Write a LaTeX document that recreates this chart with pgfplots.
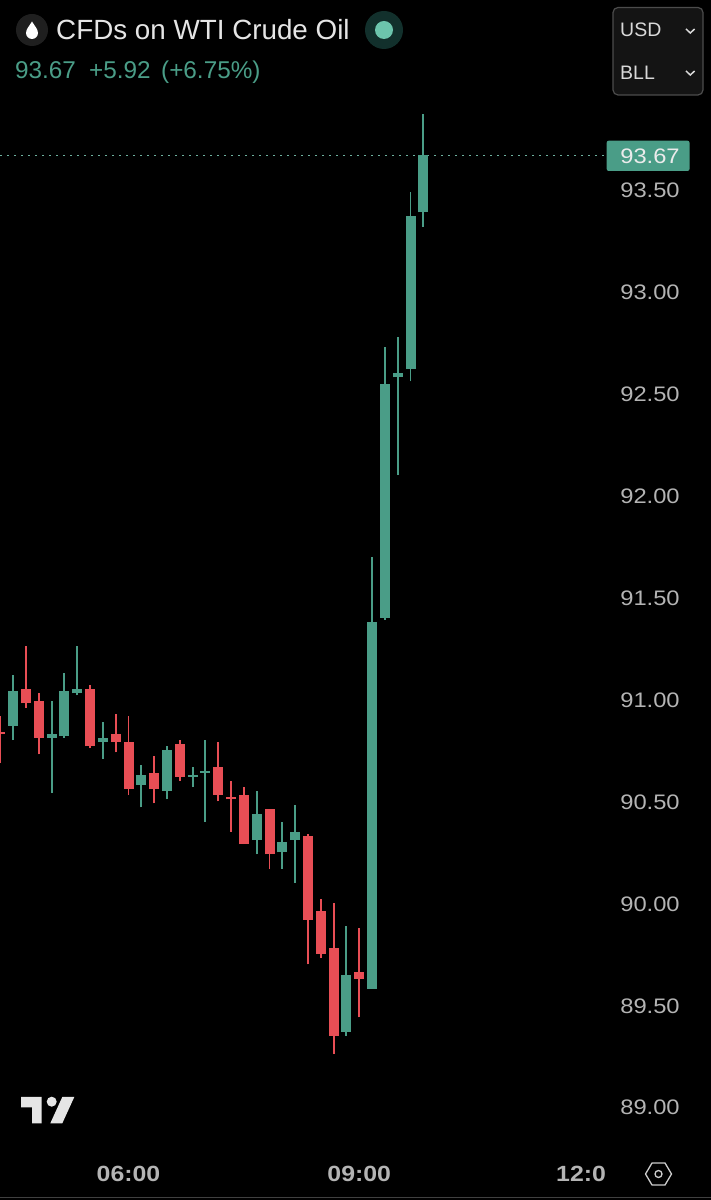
\documentclass[border=0pt]{standalone}
\usepackage{fontspec}
\setmainfont{Liberation Sans}
\newfontfamily\wide[FakeStretch=1.13]{Liberation Sans}
\usepackage{pgfplots}
\usepackage{pgfplotstable}
\pgfplotsset{compat=1.18}
\definecolor{grn}{RGB}{74,157,135}
\definecolor{red1}{RGB}{232,78,85}
\definecolor{lbl}{RGB}{180,180,180}
\pgfplotstableread{
x open high low close
0 90.84 90.92 90.69 90.83
2 91.05 91.26 90.96 90.98
3 90.99 91.03 90.73 90.81
7 91.05 91.07 90.76 90.77
9 90.83 90.93 90.74 90.79
10 90.79 90.92 90.53 90.56
12 90.64 90.72 90.49 90.56
14 90.78 90.80 90.60 90.62
17 90.67 90.79 90.50 90.53
18 90.52 90.60 90.35 90.51
19 90.53 90.57 90.29 90.29
21 90.46 90.46 90.17 90.24
24 90.33 90.34 89.70 89.92
25 89.96 90.02 89.73 89.75
26 89.78 90.00 89.26 89.35
28 89.66 89.88 89.44 89.63
}\redt
\pgfplotstableread{
x open high low close
1 90.87 91.12 90.80 91.04
4 90.81 90.99 90.54 90.83
5 90.82 91.13 90.81 91.04
6 91.03 91.26 91.02 91.05
8 90.79 90.89 90.71 90.81
11 90.58 90.68 90.47 90.63
13 90.55 90.77 90.51 90.75
15 90.62 90.67 90.57 90.63
16 90.64 90.80 90.40 90.65
20 90.31 90.55 90.24 90.44
22 90.25 90.40 90.17 90.30
23 90.31 90.48 90.10 90.35
27 89.37 89.89 89.35 89.65
29 89.58 91.70 89.58 91.38
30 91.40 92.73 91.39 92.55
31 92.58 92.78 92.10 92.60
32 92.62 93.49 92.56 93.37
33 93.39 93.87 93.32 93.67
}\grnt
\pgfplotsset{
 wick/.style={draw=none, mark=none, forget plot, error bars/.cd, y dir=plus, y explicit, error mark=none,
   error bar style={draw=#1, line width=1.9pt}},
 body/.style={draw=none, mark=none, forget plot, error bars/.cd, y dir=plus, y explicit, error mark=none,
   error bar style={draw=#1, line width=10pt}}
}
\begin{document}
\begin{tikzpicture}
\useasboundingbox (0,0) rectangle (711pt,1200pt);
\clip (0,0) rectangle (711pt,1200pt);
\begin{axis}[
  at={(0pt,0pt)}, anchor=south west,
  scale only axis, width=711pt, height=1200pt,
  xmin=-0.0234, xmax=55.436, ymin=88.5437, ymax=94.4318,
  axis background/.style={fill=black},
  axis line style={draw=none}, tick style={draw=none}, major tick length=0pt,
  ytick={89,89.5,90,90.5,91,91.5,92,92.5,93,93.5},
  yticklabel pos=right,
  yticklabel style={/pgf/number format/.cd, fixed, fixed zerofill, precision=2, assume math mode=true,
     /tikz/.cd, anchor=center, xshift=-61pt, yshift=-0.7pt, font=\wide\fontsize{21}{24}\selectfont, text=lbl},
  xtick={10,28,45.3},
  xticklabels={06:00,09:00,12:0},
  xticklabel style={anchor=center, yshift=26pt, font=\wide\fontsize{22}{24}\selectfont\bfseries, text=lbl},
]
\addplot[forget plot, draw=grn!80!white, line width=1.3pt, dash pattern=on 1.5pt off 5.5pt] coordinates {(-0.02,93.67) (47.25,93.67)};
\addplot[wick=red1] table[x=x, y=low, y error plus expr=\thisrow{high}-\thisrow{low}] {\redt};
\addplot[wick=grn] table[x=x, y=low, y error plus expr=\thisrow{high}-\thisrow{low}] {\grnt};
\addplot[body=red1] table[x=x, y=close, y error plus expr=\thisrow{open}-\thisrow{close}] {\redt};
\addplot[body=grn] table[x=x, y=open, y error plus expr=\thisrow{close}-\thisrow{open}] {\grnt};
\end{axis}
\begin{scope}[x=1pt,y=-1pt,yshift=1200pt, every node/.style={inner sep=0pt}]
 % header
 \fill[black!88!white] (32,30) circle (16);
 \fill[white] (32,21.5) .. controls (29.5,26) and (26,29) .. (26,33) .. controls (26,36.5) and (29,39) .. (32,39) .. controls (35,39) and (38,36.5) .. (38,33) .. controls (38,29) and (34.5,26) .. (32,21.5) -- cycle;
 \node[anchor=base west, text=white!90!black, font=\fontsize{27.8}{30}\selectfont] at (56,39.5) {CFDs on WTI Crude Oil};
 \definecolor{stouter}{RGB}{18,48,44}
 \definecolor{stinner}{RGB}{108,196,172}
 \fill[stouter] (384,30) circle (19);
 \fill[stinner] (384,30) circle (9);
 \node[anchor=base west, text=grn, font=\fontsize{24.3}{26}\selectfont] at (15,79) {93.67};
 \node[anchor=base west, text=grn, font=\fontsize{24.3}{26}\selectfont] at (89,79) {+5.92};
 \node[anchor=base west, text=grn, font=\fontsize{24.3}{26}\selectfont] at (161,79) {(+6.75\%)};
 % unit box
 \draw[draw=black!70!white, fill=black!92!white, line width=1.2pt, rounded corners=5pt] (613,7.5) rectangle (703,95);
 \node[anchor=base west, text=white!85!black, font=\fontsize{19.5}{24}\selectfont] at (620,37) {USD};
 \node[anchor=base west, text=white!85!black, font=\fontsize{19.5}{24}\selectfont] at (620,80) {BLL};
 \draw[white!85!black, line width=1.5pt] (686,29) -- (690.3,33) -- (694.6,29);
 \draw[white!85!black, line width=1.5pt] (686,71) -- (690.3,75) -- (694.6,71);
 % last price tag
 \fill[grn, rounded corners=2pt] (606.7,140.7) rectangle (689.5,171);
 \node[text=white!92!black, font=\wide\fontsize{21}{24}\selectfont] at (650,156) {93.67};
 % logo
 \fill[white!90!black] (21,1097) -- (41.7,1097) -- (41.7,1123.3) -- (32,1123.3) -- (32,1107.3) -- (21,1107.3) -- cycle;
 \fill[white!90!black] (51.7,1101.7) circle (5);
 \fill[white!90!black] (62.3,1097) -- (74.3,1097) -- (62.3,1123.3) -- (50.3,1123.3) -- cycle;
 % hexagon
 \draw[white!80!black, line width=1.3pt] (645.5,1174) -- (652,1163) -- (665,1163) -- (671.5,1174) -- (665,1185) -- (652,1185) -- cycle;
 \draw[white!80!black, line width=1.3pt] (658.5,1174) circle (3.5);
 \draw[black!75!white, line width=0.8pt] (0,1197) -- (711,1197);
\end{scope}
\end{tikzpicture}
\end{document}
